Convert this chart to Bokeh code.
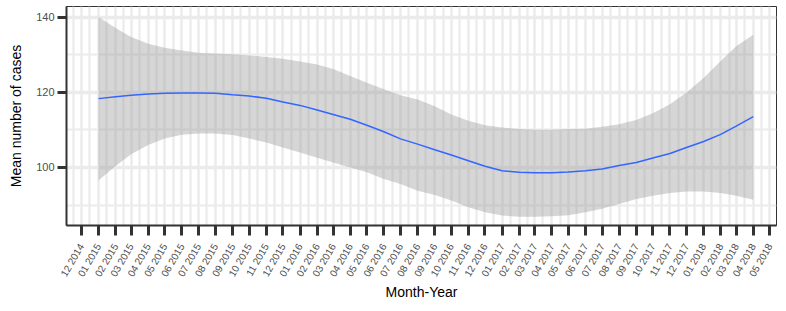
import math
from datetime import datetime
import pandas as pd
from bokeh.plotting import figure
from bokeh.models import FixedTicker, DatetimeTickFormatter, Range1d, ColumnDataSource
from bokeh.embed import file_html
from bokeh.resources import INLINE

# ---- data ----
months = pd.date_range("2015-01-01", "2018-04-01", freq="MS")
mean_cases = [118.3, 118.8, 119.2, 119.5, 119.7, 119.8, 119.8, 119.7, 119.3, 119.0,
              118.4, 117.4, 116.5, 115.3, 114.1, 112.8, 111.2, 109.5, 107.6, 106.2,
              104.7, 103.3, 101.8, 100.3, 99.1, 98.7, 98.6, 98.6, 98.8, 99.1,
              99.6, 100.5, 101.3, 102.5, 103.7, 105.3, 106.9, 108.8, 111.0, 113.5]
upper_ci = [140.0, 137.1, 134.7, 132.9, 131.8, 131.1, 130.5, 130.3, 130.1, 129.8,
            129.4, 128.9, 128.2, 127.4, 126.2, 124.3, 122.5, 120.8, 119.2, 118.1,
            116.3, 114.1, 112.4, 111.2, 110.6, 110.2, 110.0, 110.0, 110.2, 110.3,
            110.8, 111.5, 112.6, 114.4, 116.8, 119.9, 123.8, 128.3, 132.2, 135.3]
lower_ci = [96.5, 100.4, 103.5, 106.0, 107.7, 108.7, 109.0, 109.0, 108.6, 107.7,
            106.6, 105.3, 104.0, 102.6, 101.3, 100.0, 98.7, 96.9, 95.6, 93.8,
            92.7, 91.2, 89.4, 88.1, 87.2, 86.9, 86.9, 87.0, 87.3, 88.1,
            89.0, 90.3, 91.6, 92.5, 93.2, 93.6, 93.6, 93.2, 92.5, 91.4]

tick_months = pd.date_range("2014-12-01", "2018-05-01", freq="MS")
y_ticks = [100, 120, 140]
y_minor_ticks = [90, 110, 130]

src = ColumnDataSource(dict(x=months, mean=mean_cases, lo=lower_ci, hi=upper_ci))

p = figure(width=778, height=303, x_axis_type="datetime",
           output_backend="svg", toolbar_location=None,
           x_range=Range1d(datetime(2014, 11, 4), datetime(2018, 5, 13)),
           y_range=Range1d(84.56, 142.8),
           min_border_left=66, min_border_right=2, min_border_top=6, min_border_bottom=70)
p.background_fill_color = "white"
p.border_fill_color = "white"
p.outline_line_color = "#333333"
p.outline_line_width = 1

p.varea(x="x", y1="lo", y2="hi", source=src, fill_color="#999999", fill_alpha=0.4)
p.line(x="x", y="mean", source=src, line_color="#3366FF", line_width=1.5)

# ticks
ms = lambda d: d.value // 10**6
x_major = [ms(d) for d in tick_months]
x_minor = [ms(d + pd.Timedelta(days=15)) for d in pd.date_range("2014-11-01", "2018-05-01", freq="MS")]
p.xaxis.ticker = FixedTicker(ticks=x_major, minor_ticks=x_minor)
fmt = "%m %Y"
p.xaxis.formatter = DatetimeTickFormatter(
    microseconds=fmt, milliseconds=fmt, seconds=fmt, minsec=fmt, minutes=fmt,
    hourmin=fmt, hours=fmt, days=fmt, months=fmt, years=fmt,
    strip_leading_zeros=False)
p.yaxis.ticker = FixedTicker(ticks=y_ticks, minor_ticks=y_minor_ticks)

# grids
p.xgrid.grid_line_color = "#ebebeb"
p.xgrid.grid_line_width = 2.5
p.xgrid.minor_grid_line_color = "#ebebeb"
p.xgrid.minor_grid_line_width = 2.2
p.ygrid.grid_line_color = "#ebebeb"
p.ygrid.grid_line_width = 3.5
p.ygrid.minor_grid_line_color = "#ebebeb"
p.ygrid.minor_grid_line_width = 2.2

for ax in (p.xaxis[0], p.yaxis[0]):
    ax.axis_line_color = "#333333"
    ax.axis_line_width = 2
    ax.major_tick_line_color = "#333333"
    ax.major_tick_line_width = 3
    ax.major_tick_in = 0
    ax.minor_tick_line_color = None
    ax.major_label_text_font = "Liberation Sans"
    ax.major_label_text_color = "#4d4d4d"
    ax.axis_label_text_font = "Liberation Sans"
    ax.axis_label_text_font_size = "14px"
    ax.axis_label_text_font_style = "normal"
    ax.axis_label_text_color = "black"

p.yaxis.major_label_text_font_size = "11px"
p.xaxis.major_label_text_font_size = "10px"
p.xaxis.major_tick_out = 10
p.xaxis.major_label_orientation = math.pi / 3
p.xaxis.major_label_standoff = 9
p.xaxis.axis_label = "Month-Year"
p.xaxis.axis_label_standoff = 0

p.yaxis.major_tick_out = 9
p.yaxis.major_label_standoff = 3
p.yaxis.axis_label = "Mean number of cases"
p.yaxis.axis_label_standoff = 9

open("out.html", "w").write(file_html(p, INLINE))
